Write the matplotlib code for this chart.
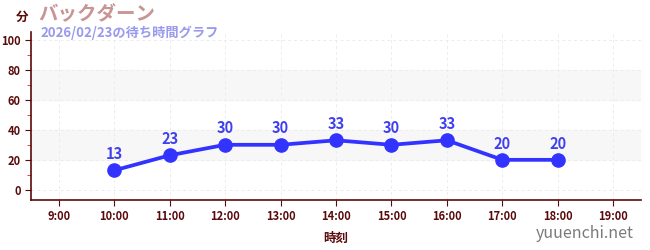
import numpy as np
import matplotlib.pyplot as plt
from matplotlib.ticker import MultipleLocator

plt.rcParams['font.family'] = ['Noto Sans CJK JP', 'DejaVu Sans']

# data
hours = [10, 11, 12, 13, 14, 15, 16, 17, 18]
waits = [13, 23, 30, 30, 33, 30, 33, 20, 20]
xticks = list(range(9, 20))
xlabels = ['%d:00' % h for h in xticks]
title = 'バックダーン'
subtitle = '2026/02/23の待ち時間グラフ'

dark = '#5a0a0a'
fig = plt.figure(figsize=(6.5, 2.5), dpi=100)
ax = fig.add_axes([31/650, 50/250, 610/650, 168/250])

ax.set_xlim(8.5, 19.5)
ax.set_ylim(-6.7, 105)
ax.axhspan(20, 40, color='#f7f7f7', zorder=0)
ax.axhspan(60, 80, color='#f7f7f7', zorder=0)
ax.set_xticks(xticks)
ax.set_xticklabels(xlabels)
ax.set_yticks(range(0, 101, 20))
ax.yaxis.set_minor_locator(MultipleLocator(10))
ax.grid(True, color='#ececec', linestyle=(0, (3, 3)), linewidth=0.7)
ax.set_axisbelow(True)

ax.plot(hours, waits, color='#3333ff', lw=2.7, marker='o', ms=9.5, zorder=3)
for h, w in zip(hours, waits):
    ax.annotate(str(w), (h, w), xytext=(0, 6), textcoords='offset points',
                ha='center', va='bottom', color='#4040ee', fontsize=10.5, fontweight='bold')

for s in ['top', 'right']:
    ax.spines[s].set_visible(False)
for s in ['left', 'bottom']:
    ax.spines[s].set_color(dark)
    ax.spines[s].set_linewidth(1.2)
ax.tick_params(axis='both', colors=dark, labelsize=8, length=4)
ax.tick_params(axis='y', which='minor', color='#dd2222', length=3)
for lab in ax.get_xticklabels() + ax.get_yticklabels():
    lab.set_fontweight('bold')

ax.set_xlabel('時刻', color=dark, fontsize=9, fontweight='bold', labelpad=6)
fig.text(16/650, 1 - 17/250, '分', color=dark, fontsize=9, fontweight='bold', ha='left', va='center')
fig.text(38/650, 1 - 15/250, title, color='#c89494', fontsize=14, fontweight='bold', ha='left', va='center')
fig.text(40/650, 1 - 33/250, subtitle, color='#9999ee', fontsize=9.5, fontweight='bold', ha='left', va='center')
fig.text(634/650, 1 - 234/250, 'yuuenchi.net', color='#7a7a7a', fontsize=11.5, ha='right', va='center')

fig.savefig('out.png', dpi=100)
